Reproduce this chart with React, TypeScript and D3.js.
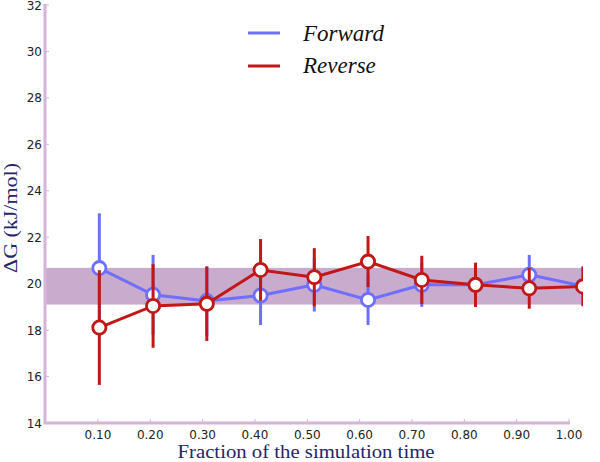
import React from "react";
import * as d3 from "d3";

const fractions = [0.1, 0.2, 0.3, 0.4, 0.5, 0.6, 0.7, 0.8, 0.9, 1.0];
const forwardValues = [20.67, 19.52, 19.25, 19.49, 19.95, 19.3, 19.95, 19.95, 20.38, 19.9];
const forwardErrors = [2.36, 1.72, 1.5, 1.27, 1.15, 1.08, 0.95, 0.95, 0.86, 0.85];
const reverseValues = [18.11, 19.04, 19.13, 20.59, 20.28, 20.95, 20.16, 19.95, 19.8, 19.88];
const reverseErrors = [2.47, 1.8, 1.6, 1.33, 1.25, 1.1, 1.04, 0.95, 0.88, 0.85];
const bandRange = [19.1, 20.68];
const xTicks = [0.1, 0.2, 0.3, 0.4, 0.5, 0.6, 0.7, 0.8, 0.9, 1.0];
const yTicks = [14, 16, 18, 20, 22, 24, 26, 28, 30, 32];
const seriesNames = ["Forward", "Reverse"];

const W = 600;
const H = 462;
const BLUE = "#6e6eff";
const RED = "#c21717";
const BAND = "#c9abcd";
const AXIS = "#d6b3d8";
const NAVY = "#25256a";

export default function App() {
  const xData = d3.scaleLinear().domain([0, 1]).range([45.6, 583]);
  const xAxis = d3.scaleLinear().domain([0, 1]).range([45.6, 569]);
  const y = d3.scaleLinear().domain([14, 32]).range([423, 5]);
  const line = d3
    .line<number>()
    .x((_, i) => xData(fractions[i]))
    .y((v) => y(v));

  const series = [
    { vals: forwardValues, errs: forwardErrors, color: BLUE },
    { vals: reverseValues, errs: reverseErrors, color: RED },
  ];

  return (
    <svg
      width={W}
      height={H}
      style={{ position: "absolute", left: 0, top: 0 }}
      viewBox={`0 0 ${W} ${H}`}
    >
      <defs>
        <clipPath id="plotclip">
          <rect x={45} y={0} width={583 - 45} height={423} />
        </clipPath>
      </defs>
      <rect width={W} height={H} fill="#fff" />
      <g clipPath="url(#plotclip)">
        <rect
          x={45}
          y={y(bandRange[1])}
          width={583 - 45}
          height={y(bandRange[0]) - y(bandRange[1])}
          fill={BAND}
        />
        {series.map((s, si) => (
          <g key={si}>
            {s.vals.map((v, i) => (
              <line
                key={i}
                x1={xData(fractions[i])}
                x2={xData(fractions[i])}
                y1={y(v - s.errs[i])}
                y2={y(v + s.errs[i])}
                stroke={s.color}
                strokeWidth={3}
              />
            ))}
            <path d={line(s.vals) || ""} fill="none" stroke={s.color} strokeWidth={3} />
            {s.vals.map((v, i) => (
              <circle
                key={i}
                cx={xData(fractions[i])}
                cy={y(v)}
                r={6.6}
                fill="#fff"
                stroke={s.color}
                strokeWidth={2.8}
              />
            ))}
          </g>
        ))}
      </g>
      {/* axes */}
      <line x1={45} x2={45} y1={4} y2={424} stroke={AXIS} strokeWidth={3} />
      <line x1={44} x2={570} y1={423} y2={423} stroke={AXIS} strokeWidth={3} />
      {yTicks.map((t) => (
        <g key={t}>
          <line x1={45} x2={49} y1={y(t)} y2={y(t)} stroke={AXIS} strokeWidth={1} />
          <text
            x={42}
            y={y(t) + 4.5}
            textAnchor="end"
            fontFamily="DejaVu Sans"
            fontSize={12}
            fill="#222"
          >
            {t}
          </text>
        </g>
      ))}
      {xTicks.map((t) => (
        <g key={t}>
          <line x1={xAxis(t)} x2={xAxis(t)} y1={423} y2={419} stroke={AXIS} strokeWidth={1} />
          <text
            x={xAxis(t)}
            y={439}
            textAnchor="middle"
            fontFamily="DejaVu Sans"
            fontSize={12}
            fill="#222"
          >
            {t.toFixed(2)}
          </text>
        </g>
      ))}
      <text
        x={306}
        y={458}
        textAnchor="middle"
        fontFamily="Liberation Serif"
        fontSize={18}
        textLength={257}
        lengthAdjust="spacingAndGlyphs"
        fill={NAVY}
      >
        Fraction of the simulation time
      </text>
      <text
        transform={`translate(17,218) rotate(-90)`}
        textAnchor="middle"
        fontFamily="Liberation Serif"
        fontSize={19}
        textLength={110}
        lengthAdjust="spacingAndGlyphs"
        fill={NAVY}
      >
        ΔG (kJ/mol)
      </text>
      {/* legend */}
      {seriesNames.map((n, i) => (
        <g key={n}>
          <line
            x1={248}
            x2={280}
            y1={33 + i * 33}
            y2={33 + i * 33}
            stroke={i === 0 ? BLUE : RED}
            strokeWidth={3}
          />
          <text
            x={303}
            y={41 + i * 32}
            fontFamily="Liberation Serif"
            fontStyle="italic"
            fontSize={23}
            fill="#111"
          >
            {n}
          </text>
        </g>
      ))}
    </svg>
  );
}
